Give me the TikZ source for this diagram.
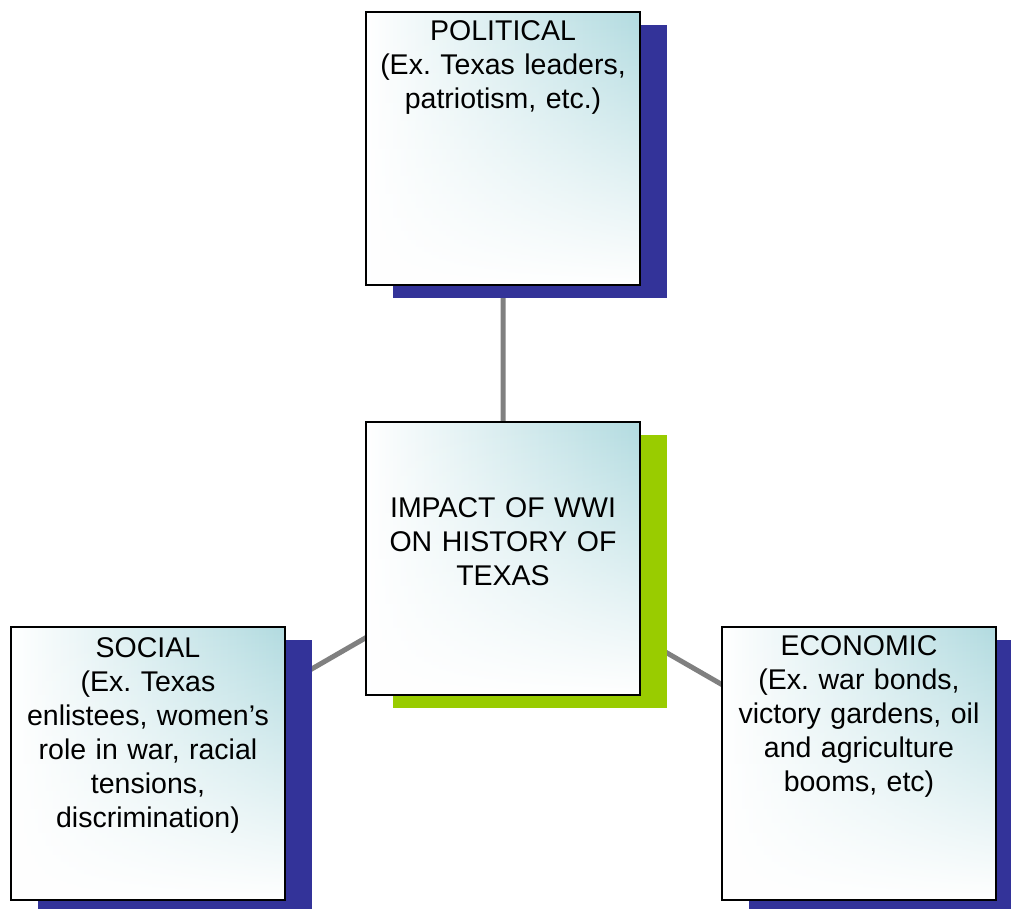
\documentclass[tikz,border=0pt]{standalone}
\usepackage{fontspec}
\setmainfont{Liberation Sans}
\usetikzlibrary{positioning,shadows,backgrounds,fadings}
\definecolor{shadowblue}{RGB}{51,51,153}
\definecolor{shadowgreen}{RGB}{153,204,0}
\definecolor{boxteal}{RGB}{178,219,224}
\definecolor{linkgray}{RGB}{128,128,128}
\frenchspacing

\begin{document}
\begin{tikzpicture}[x=1pt,y=-1pt]
\tikzstyle{box}=[rectangle, minimum width=274pt, minimum height=273pt, outer sep=0pt, inner sep=0pt, left color=white, right color=boxteal, postaction={fill=white, path fading=north}, postaction={draw=black, line width=1.8pt}]
\tikzstyle{topic}=[box, drop shadow={shadow xshift=27pt, shadow yshift=-13pt, fill=shadowblue, opacity=1}]
\tikzstyle{hub}=[box, drop shadow={shadow xshift=27pt, shadow yshift=-13pt, fill=shadowgreen, opacity=1}]
\tikzstyle{boxtext}=[text width=300pt, align=center, inner sep=0pt, anchor=north, font=\fontsize{28.5}{34}\selectfont]
\tikzstyle{connect}=[draw=linkgray, line width=5pt]
\useasboundingbox (0,0) rectangle (1011,909);
  \node[hub, label={[boxtext, yshift=-75pt]north:{IMPACT OF WWI\\ON HISTORY OF\\TEXAS}}] (impact) at (503,558.5) {};
  \node[topic, above=137pt of impact, label={[boxtext, yshift=-8pt]north:{POLITICAL\\(Ex. Texas leaders,\\patriotism, etc.)}}] (political) {};
  \node[topic, below left=-68pt and 81pt of impact, label={[boxtext, yshift=-10pt]north:{SOCIAL\\(Ex. Texas\\enlistees, women’s\\role in war, racial\\tensions,\\discrimination)}}] (social) {};
  \node[topic, below right=-68pt and 82pt of impact, label={[boxtext, yshift=-8pt]north:{ECONOMIC\\(Ex. war bonds,\\victory gardens, oil\\and agriculture\\booms, etc)}}] (economic) {};
\begin{scope}[on background layer]
  \path[connect] (impact.center) -- (political.center)
                 (impact.center) -- (social.center)
                 (impact.center) -- (economic.center);
\end{scope}
\end{tikzpicture}
\end{document}
